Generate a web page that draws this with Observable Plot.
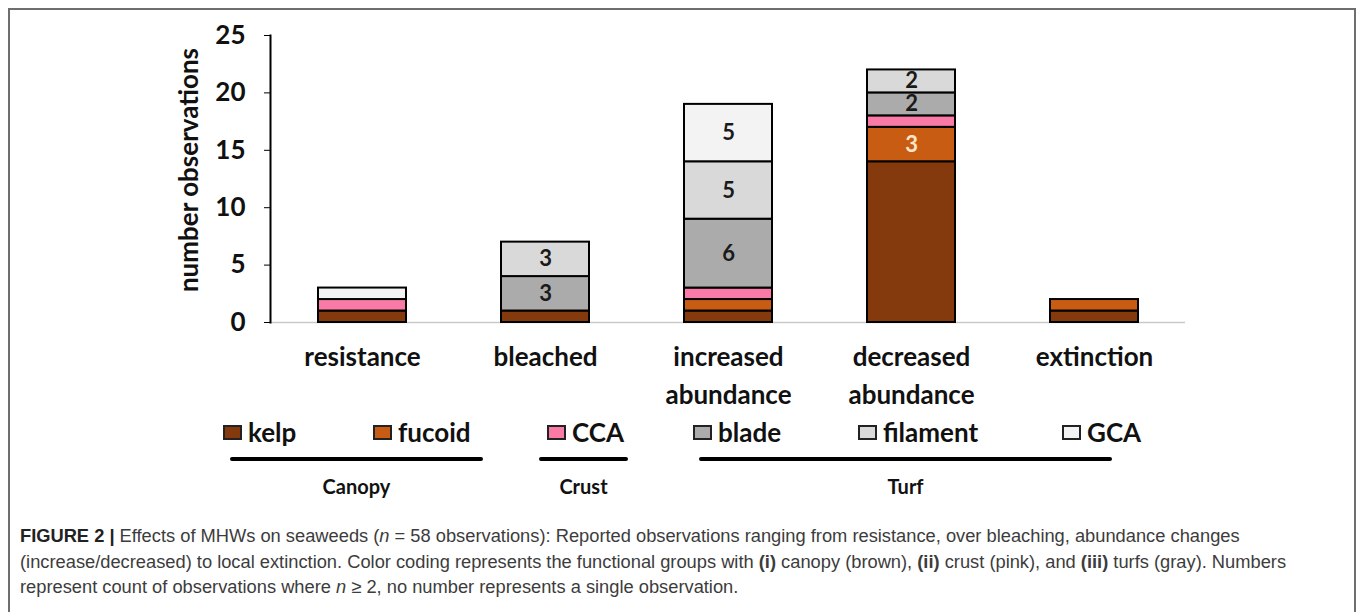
<!DOCTYPE html>
<html>
<head>
<meta charset="utf-8">
<script src="https://cdn.jsdelivr.net/npm/d3@7"></script>
<script src="https://cdn.jsdelivr.net/npm/@observablehq/plot@0.6"></script>
<style>
  html, body { margin: 0; padding: 0; background: #fff; }
  #page { position: relative; width: 1357px; height: 612px; overflow: hidden; background: #fff; }
  #frame { position: absolute; left: 8px; top: 8px; width: 1348px; height: 700px; border: 2px solid #6e6e6e; box-sizing: border-box; }
  #chart { position: absolute; left: 0; top: 0; }
  .leg { position: absolute; font-family: Lato, sans-serif; font-weight: bold; font-size: 26px; color: #111; line-height: 26px; white-space: nowrap; }
  .sw { position: absolute; width: 19px; height: 15px; box-sizing: border-box; border: 2px solid #222; }
  .gline { position: absolute; height: 4px; background: #000; border-radius: 2px; }
  .glab { position: absolute; font-family: Lato, sans-serif; font-weight: bold; font-size: 20px; line-height: 24px; color: #111; transform: translateX(-50%); white-space: nowrap; }
  #caption { position: absolute; left: 20px; top: 523px; font-family: "Liberation Sans", Arial, sans-serif; font-size: 18.3px; line-height: 25.5px; color: #3c3c3c; white-space: nowrap; }
</style>
</head>
<body>
<div id="page">
  <div id="frame"></div>
  <div id="chart"></div>
  <div id="legend"></div>
  <div id="caption">
    <b style="color:#222">FIGURE 2 |</b> Effects of MHWs on seaweeds (<i>n</i> = 58 observations): Reported observations ranging from resistance, over bleaching, abundance changes<br>
    (increase/decreased) to local extinction. Color coding represents the functional groups with <b>(i)</b> canopy (brown), <b>(ii)</b> crust (pink), and <b>(iii)</b> turfs (gray). Numbers<br>
    represent count of observations where <i>n</i> ≥ 2, no number represents a single observation.
  </div>
</div>
<script>
// ---- data ----
const categories = ["resistance", "bleached", "increased abundance", "decreased abundance", "extinction"];
const tickLabels = ["resistance", "bleached", "increased\nabundance", "decreased\nabundance", "extinction"];
const groups = ["kelp", "fucoid", "CCA", "blade", "filament", "GCA"];
const kelp     = [1, 1, 1, 14, 1];
const fucoid   = [0, 0, 1, 3, 1];
const cca      = [1, 0, 1, 1, 0];
const blade    = [0, 3, 6, 2, 0];
const filament = [0, 3, 5, 2, 0];
const gca      = [1, 0, 5, 0, 0];
const colors = ["#853a0e", "#c95c13", "#f97aa6", "#ababab", "#d9d9d9", "#f2f3f2"];
const yTicks = [0, 5, 10, 15, 20, 25];
const legendGroups = ["Canopy", "Crust", "Turf"];

const series = [kelp, fucoid, cca, blade, filament, gca];
const rows = [];
categories.forEach((cat, i) => {
  groups.forEach((g, j) => {
    const v = series[j][i];
    if (v > 0) rows.push({cat, group: g, value: v});
  });
});
// the kelp segments carry no number in the original figure
const showLabel = d => d.value >= 2 && d.group !== "kelp";

const chart = Plot.plot({
  width: 1357,
  height: 420,
  marginTop: 35,
  marginBottom: 98,
  marginLeft: 270,
  marginRight: 172,
  style: {fontFamily: "Lato, sans-serif", fontWeight: "bold", fontSize: "24px", color: "#111", background: "transparent"},
  x: {domain: categories, paddingInner: 0.52, paddingOuter: 0.26, axis: null},
  y: {domain: [0, 25], axis: null},
  color: {domain: groups, range: colors},
  marks: [
    Plot.ruleY([0], {stroke: "#c9c9c9", strokeWidth: 1.5}),
    Plot.barY(rows, {x: "cat", y: "value", fill: "group", order: groups, stroke: "#000", strokeWidth: 2}),
    Plot.text(rows, Plot.stackY({x: "cat", y: "value", z: "group", order: groups,
      text: d => (showLabel(d) && d.group !== "fucoid") ? String(d.value) : null,
      fill: "#1a1a1a", fontSize: 22, fontWeight: "bold"})),
    Plot.text(rows, Plot.stackY({x: "cat", y: "value", z: "group", order: groups,
      text: d => (showLabel(d) && d.group === "fucoid") ? String(d.value) : null,
      fill: "#fde6c4", fontSize: 22, fontWeight: "bold"})),
    Plot.axisY({ticks: yTicks, tickSize: 6, tickPadding: 19, stroke: "#000",
      label: "number observations", labelAnchor: "center", labelArrow: "none", labelOffset: 91, fontSize: 26}),
    Plot.axisX({tickSize: 0, tickPadding: 17, fontSize: 26, lineHeight: 1.46,
      tickFormat: d => tickLabels[categories.indexOf(d)], label: null}),
    Plot.frame({anchor: "left", stroke: "#000", strokeWidth: 2})
  ]
});
document.getElementById("chart").appendChild(chart);
// nudge the rotated y-axis title up slightly, as in the original
d3.select(chart).selectAll('g[aria-label="y-axis label"] text').each(function() {
  const t = d3.select(this);
  t.attr("transform", "translate(0,-9) " + (t.attr("transform") || ""));
});

// ---- legend (HTML) ----
const legend = document.getElementById("legend");
const swX = [223, 373, 547, 693, 858, 1062];
groups.forEach((g, i) => {
  const sw = document.createElement("div");
  sw.className = "sw";
  sw.style.left = swX[i] + "px";
  sw.style.top = "425px";
  sw.style.background = colors[i];
  legend.appendChild(sw);
  const t = document.createElement("div");
  t.className = "leg";
  t.style.left = (swX[i] + 25) + "px";
  t.style.top = "419px";
  t.textContent = g;
  legend.appendChild(t);
});
const lineSpans = [[230, 483], [539, 628], [699, 1112]];
legendGroups.forEach((name, i) => {
  const [a, b] = lineSpans[i];
  const l = document.createElement("div");
  l.className = "gline";
  l.style.left = a + "px";
  l.style.width = (b - a) + "px";
  l.style.top = "457px";
  legend.appendChild(l);
  const lab = document.createElement("div");
  lab.className = "glab";
  lab.style.left = ((a + b) / 2) + "px";
  lab.style.top = "474px";
  lab.textContent = name;
  legend.appendChild(lab);
});
</script>
</body>
</html>
